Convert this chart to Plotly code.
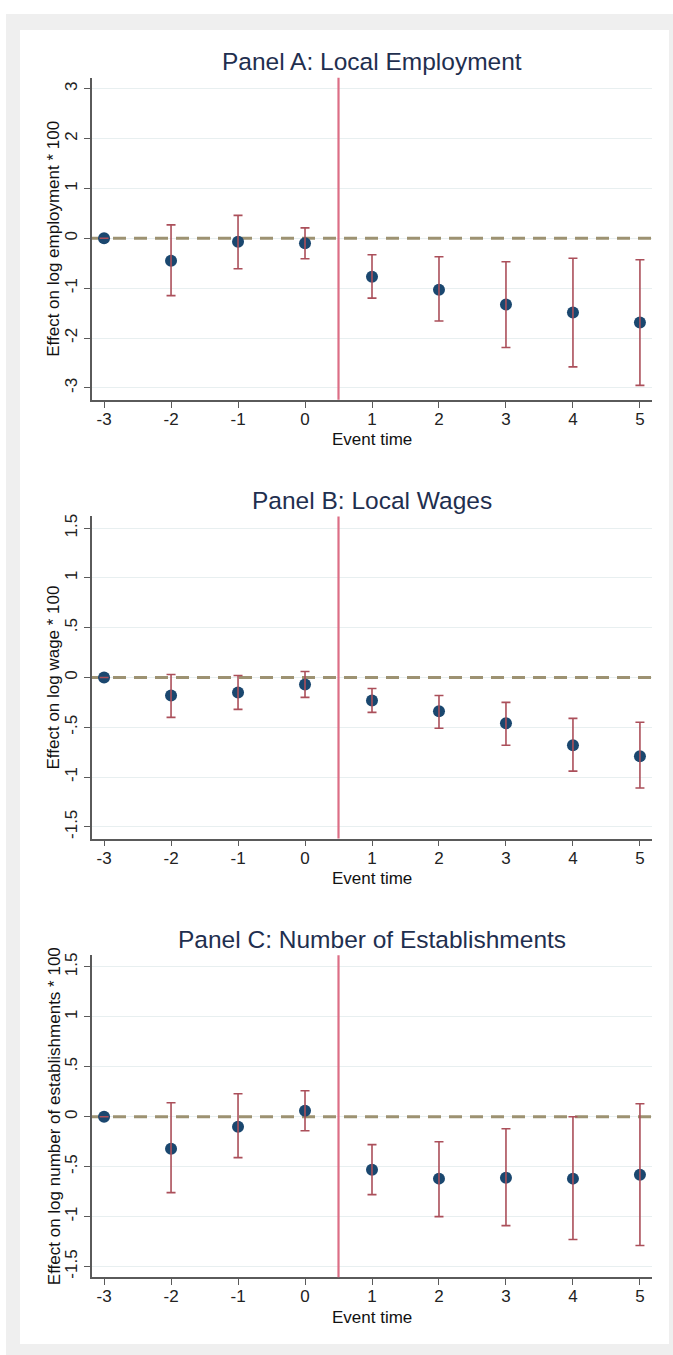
import plotly.graph_objects as go

# ---------------- data ----------------
event_time = [-3, -2, -1, 0, 1, 2, 3, 4, 5]
x_tick_labels = ["-3", "-2", "-1", "0", "1", "2", "3", "4", "5"]
x_range = [-3.18, 5.18]

emp_coef = [0.0, -0.45, -0.07, -0.10, -0.77, -1.03, -1.33, -1.49, -1.69]
emp_lo = [0.0, -1.15, -0.61, -0.41, -1.20, -1.66, -2.19, -2.58, -2.95]
emp_hi = [0.0, 0.27, 0.46, 0.21, -0.33, -0.37, -0.47, -0.40, -0.43]

wage_coef = [0.0, -0.18, -0.15, -0.07, -0.23, -0.34, -0.46, -0.68, -0.79]
wage_lo = [0.0, -0.40, -0.32, -0.20, -0.35, -0.51, -0.68, -0.94, -1.11]
wage_hi = [0.0, 0.03, 0.02, 0.06, -0.11, -0.18, -0.25, -0.41, -0.45]

est_coef = [0.0, -0.32, -0.10, 0.06, -0.53, -0.62, -0.61, -0.62, -0.58]
est_lo = [0.0, -0.76, -0.41, -0.14, -0.78, -1.00, -1.09, -1.23, -1.29]
est_hi = [0.0, 0.14, 0.23, 0.26, -0.28, -0.25, -0.12, 0.00, 0.13]

emp_ticks = [-3, -2, -1, 0, 1, 2, 3]
emp_tick_labels = ["-3", "-2", "-1", "0", "1", "2", "3"]
small_ticks = [-1.5, -1, -0.5, 0, 0.5, 1, 1.5]
small_tick_labels = ["-1.5", "-1", "-.5", "0", ".5", "1", "1.5"]

panel_titles = ["Panel A: Local Employment", "Panel B: Local Wages",
                "Panel C: Number of Establishments"]
y_titles = ["Effect on log employment * 100", "Effect on log wage * 100",
            "Effect on log number of establishments * 100"]
x_title = "Event time"
treatment_line_x = 0.5
zero_ref = 0.0

# ---------------- layout helpers ----------------
W, H = 673, 1355
def fx(px):
    return px / W
def fy(py):
    return 1 - py / H

FONT = "Liberation Sans, Arial, Helvetica, sans-serif"
NAVY = "#1a476f"
CI_COL = "#ab4f5a"
VLINE_COL = "#dc6e86"
ZERO_COL = "#9d9272"
AXIS_COL = "#5a5a5a"
GRID_COL = "#e8eff0"
TITLE_COL = "#1f2f4f"

plot_left, plot_right = 92, 652
panels = [
    dict(top=75, bottom=398, yrange=[-3.24, 3.22], ticks=emp_ticks, tlab=emp_tick_labels,
         coef=emp_coef, lo=emp_lo, hi=emp_hi),
    dict(top=515, bottom=838, yrange=[-1.617, 1.617], ticks=small_ticks, tlab=small_tick_labels,
         coef=wage_coef, lo=wage_lo, hi=wage_hi),
    dict(top=955, bottom=1278, yrange=[-1.607, 1.617], ticks=small_ticks, tlab=small_tick_labels,
         coef=est_coef, lo=est_lo, hi=est_hi),
]

fig = go.Figure()
shapes = []
annotations = []

# gray frame and inner white panel
shapes.append(dict(type="rect", xref="paper", yref="paper", x0=fx(6), x1=fx(680),
                   y0=fy(1360), y1=fy(11), fillcolor="#efefef", line=dict(width=0), layer="below"))
shapes.append(dict(type="rect", xref="paper", yref="paper", x0=fx(20), x1=fx(669),
                   y0=fy(1345), y1=fy(27), fillcolor="#ffffff", line=dict(width=0), layer="below"))

layout_axes = {}
for i, p in enumerate(panels):
    n = "" if i == 0 else str(i + 1)
    xa, ya = "x" + n, "y" + n
    up = [h - c for h, c in zip(p["hi"], p["coef"])]
    down = [c - l for c, l in zip(p["coef"], p["lo"])]
    # dashed zero reference line (trace so it sits above the grid, below the points)
    fig.add_trace(go.Scatter(x=x_range, y=[zero_ref, zero_ref], mode="lines", xaxis=xa, yaxis=ya,
                             line=dict(color=ZERO_COL, width=3, dash="13px,8px"),
                             showlegend=False, hoverinfo="skip"))
    # points
    fig.add_trace(go.Scatter(x=event_time, y=p["coef"], mode="markers", xaxis=xa, yaxis=ya,
                             marker=dict(color=NAVY, size=12, line=dict(width=0)),
                             showlegend=False, hoverinfo="x+y"))
    # confidence intervals drawn above points
    fig.add_trace(go.Scatter(x=event_time, y=p["coef"], mode="markers", xaxis=xa, yaxis=ya,
                             marker=dict(color="rgba(0,0,0,0)", size=1),
                             error_y=dict(type="data", symmetric=False, array=up, arrayminus=down,
                                          color=CI_COL, thickness=1.6, width=4.5),
                             showlegend=False, hoverinfo="skip"))
    layout_axes["xaxis" + n] = dict(
        domain=[fx(plot_left), fx(plot_right)], range=x_range, anchor=ya,
        tickmode="array", tickvals=event_time, ticktext=x_tick_labels,
        ticks="outside", ticklen=6, tickwidth=1.3, tickcolor=AXIS_COL, ticklabelstandoff=-3,
        showline=True, linecolor=AXIS_COL, linewidth=1.5, showgrid=False, zeroline=False,
        tickfont=dict(family=FONT, size=17, color="#222222"), fixedrange=True)
    layout_axes["yaxis" + n] = dict(
        domain=[fy(p["bottom"]), fy(p["top"])], range=p["yrange"], anchor=xa,
        tickmode="array", tickvals=p["ticks"], ticktext=p["tlab"], tickangle=-90,
        ticks="outside", ticklen=6, tickwidth=1.3, tickcolor=AXIS_COL,
        showline=True, linecolor=AXIS_COL, linewidth=1.5,
        showgrid=True, gridcolor=GRID_COL, gridwidth=1, zeroline=False,
        tickfont=dict(family=FONT, size=17, color="#222222"), fixedrange=True)
    # treatment line
    shapes.append(dict(type="line", xref=xa, yref=ya + " domain", x0=treatment_line_x,
                       x1=treatment_line_x, y0=0, y1=1,
                       line=dict(color=VLINE_COL, width=2.2), layer="above"))
    # titles
    annotations.append(dict(text=panel_titles[i], xref="paper", yref="paper",
                            x=fx(372), y=fy(p["top"] - 16), xanchor="center", yanchor="middle",
                            showarrow=False, font=dict(family=FONT, size=24.5, color=TITLE_COL)))
    annotations.append(dict(text=x_title, xref="paper", yref="paper",
                            x=fx(372), y=fy(p["bottom"] + 40), xanchor="center", yanchor="middle",
                            showarrow=False, font=dict(family=FONT, size=17, color="#111111")))
    annotations.append(dict(text=y_titles[i], xref="paper", yref="paper", textangle=-90,
                            x=fx(54), y=fy((p["top"] + p["bottom"]) / 2),
                            xanchor="center", yanchor="middle",
                            showarrow=False, font=dict(family=FONT, size=17, color="#111111")))

fig.update_layout(
    width=W, height=H, margin=dict(l=0, r=0, t=0, b=0),
    paper_bgcolor="#ffffff", plot_bgcolor="rgba(0,0,0,0)",
    shapes=shapes, annotations=annotations, showlegend=False,
    font=dict(family=FONT),
    **layout_axes,
)

fig.write_html("out.html", config={"displayModeBar": False},
               post_script="document.body.style.margin='0';document.body.style.padding='0';"
                           "document.body.style.overflow='hidden';")
